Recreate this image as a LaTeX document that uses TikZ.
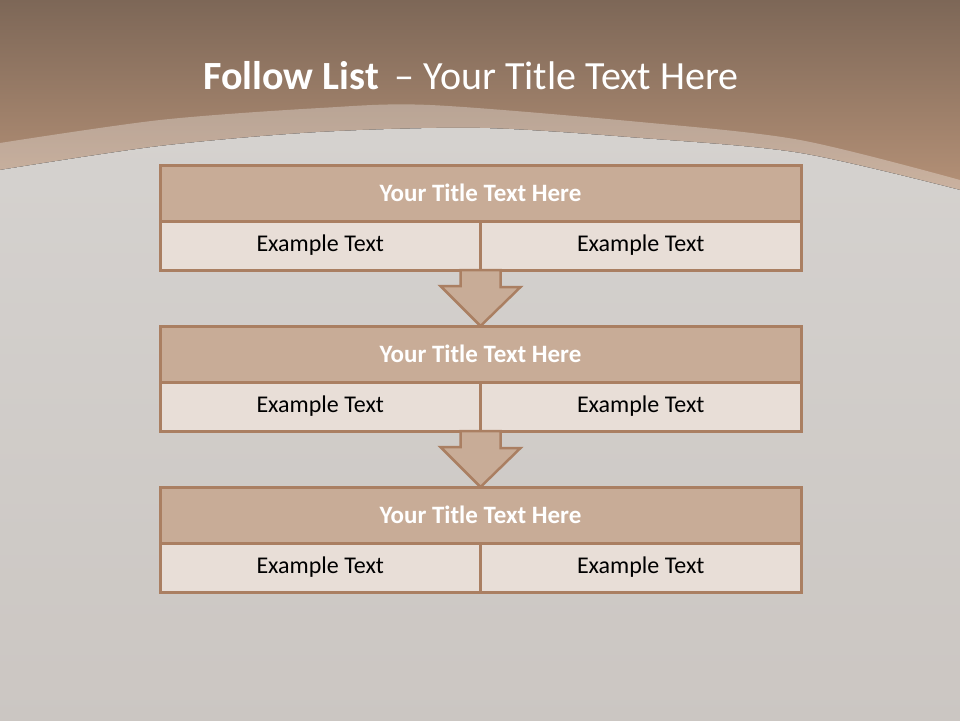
\documentclass[tikz,border=0pt]{standalone}
\usepackage{fontspec}
\setmainfont{Carlito}
\usetikzlibrary{
    calc,       % For coordinate calculations
    positioning % For relative placement
}

\definecolor{bgtop}{RGB}{125,103,87}
\definecolor{bgbot}{RGB}{186,149,122}
\definecolor{paneltop}{RGB}{213,210,207}
\definecolor{panelbot}{RGB}{203,198,194}
\definecolor{boxline}{RGB}{170,127,98}
\definecolor{headfill}{RGB}{200,172,151}
\definecolor{cellfill}{RGB}{232,222,215}

\begin{document}
\begin{tikzpicture}[
    x=1pt, y=-1pt, % one unit = one pixel, y runs downwards
    headbox/.style={draw=boxline, line width=3pt, fill=headfill, minimum width=641pt,
        minimum height=56pt, inner sep=0pt, outer sep=0pt, text=white,
        font=\fontsize{25}{30}\selectfont\bfseries},
    cellbox/.style={draw=boxline, line width=3pt, fill=cellfill, minimum width=320.5pt,
        minimum height=49pt, inner sep=0pt, outer sep=0pt, text=black,
        font=\fontsize{24}{29}\selectfont},
    flowarrow/.style={draw=boxline, line width=2.5pt, fill=headfill, line join=miter}
]
    \useasboundingbox (0,0) rectangle (960,720);

    % Background: brown band on top, grey panel below
    \fill[bgbot] (0,0) rectangle (960,720);
    \fill[top color=bgtop, bottom color=bgbot] (0,0) rectangle (960,210);
    \fill[white, opacity=0.3]
        plot[smooth] coordinates {(0,143) (160,120) (320,108) (430,105) (640,122) (800,140) (960,180)}
        -- (960,730) -- (0,730) -- cycle;
    \fill[top color=paneltop, bottom color=panelbot]
        plot[smooth] coordinates {(0,170) (160,146) (320,132) (480,128) (640,138) (800,153) (960,190)}
        -- (960,730) -- (0,730) -- cycle;

    % Title
    \node[text=white, font=\fontsize{40}{48}\selectfont] (title) at (471,76)
        {\textbf{Follow List}\, -- Your Title Text Here};

    % Three rows: header with two cells below
    \foreach \i/\top in {1/165, 2/326, 3/487} {
        \node[headbox] (h\i) at (480.5,\top+28) {Your Title Text Here};
        \node[cellbox, anchor=north east] (l\i) at (h\i.south) {Example Text};
        \node[cellbox, anchor=north west] (r\i) at (h\i.south) {Example Text};
    }

    % Block arrows between the rows
    \foreach \i/\j in {1/2, 2/3} {
        \draw[flowarrow] ([xshift=-20pt]l\i.south east) -- ++(0,16) -- ++(-20,0)
            -- (h\j.north) -- ++(40,-39) -- ++(-20,0)
            -- ([xshift=20pt]l\i.south east) -- cycle;
    }

\end{tikzpicture}
\end{document}
